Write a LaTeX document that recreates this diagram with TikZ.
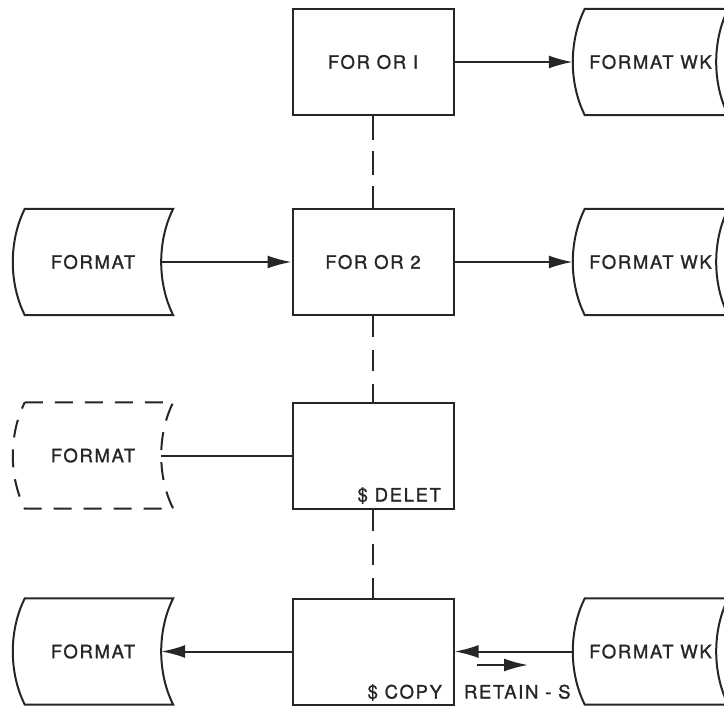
\documentclass[tikz,border=0pt]{standalone}
\usepackage{fontspec}
\setmainfont{TeX Gyre Heros}[LetterSpace=9,FakeBold=1.2]
\usetikzlibrary{arrows.meta,calc}
\tikzset{
  ln/.style={line width=2pt, draw=black!85},
  proc/.style={ln, draw, rectangle, minimum width=161pt, minimum height=106pt, inner sep=0pt},
  store/.style={rectangle, minimum width=160pt, minimum height=106pt, inner sep=0pt},
  storew/.style={store, minimum width=155pt},
  tip/.style={-{Latex[length=24pt,width=13pt]}},
  vdash/.style={ln, dash pattern=on 21pt off 13pt},
  fdash/.style={dash pattern=on 18pt off 12pt},
  txt/.style={font=\fontsize{18.5}{20}\selectfont, text=black!85},
}
\newcommand\storeoutline[2][]{%
  \draw[ln,#1] ([xshift=12pt]#2.north west) -- (#2.north east)
   .. controls ($(#2.north east)!0.3!(#2.south east)+(-16pt,0)$) and ($(#2.north east)!0.7!(#2.south east)+(-16pt,0)$) .. (#2.south east)
   -- ([xshift=12pt]#2.south west)
   .. controls ($(#2.north west)!0.7!(#2.south west)+(-4pt,0)$) and ($(#2.north west)!0.3!(#2.south west)+(-4pt,0)$) .. cycle;
}
\begin{document}
\begin{tikzpicture}[x=1pt,y=-1pt]
\useasboundingbox (0,0) rectangle (724,707);
\clip (0,0) rectangle (724,707);
% process boxes
\node[proc,txt] (b1) at (373,62) {FOR OR I};
\node[proc,txt] (b2) at (373,262) {FOR OR 2};
\node[proc] (b3) at (373,455.5) {};
\node[proc] (b4) at (373,651.5) {};
% stored data (left)
\node[store,txt] (f2) at (93,262) {FORMAT};
\node[store,txt] (f3) at (93,455.5) {FORMAT};
\node[store,txt] (f4) at (93,651.5) {FORMAT};
\storeoutline{f2}
\storeoutline[fdash]{f3}
\storeoutline{f4}
% stored data (right)
\node[storew,txt] (w1) at (650.5,62) {FORMAT WK};
\node[storew,txt] (w2) at (650.5,262) {FORMAT WK};
\node[storew,txt] (w4) at (650.5,651.5) {FORMAT WK};
\storeoutline{w1}
\storeoutline{w2}
\storeoutline{w4}
% labels
\node[txt, anchor=base east] (ldel) at ([xshift=-10pt,yshift=8pt]b3.south east) {\$ DELET};
\node[txt, anchor=base east] (lcopy) at ([xshift=-9pt,yshift=7pt]b4.south east) {\$ COPY};
\node[txt, anchor=base west] (lret) at ([xshift=6pt,yshift=7pt]b4.south east) {RETAIN - S};
% connectors
\draw[ln,tip] (b1.east) -- (w1.west);
\draw[ln,tip] ([xshift=-12pt]f2.east) -- (b2.west);
\draw[ln,tip] (b2.east) -- (w2.west);
\draw[ln] ([xshift=-12pt]f3.east) -- (b3.west);
\draw[ln,tip] (b4.west) -- ([xshift=-12pt]f4.east);
\draw[ln,tip] (w4.west) -- (b4.east);
\coordinate (r1) at (477,665);
\coordinate (r2) at (528,665);
\draw[ln,tip] (r1) -- (r2);
% dashed vertical links
\draw[vdash, dash pattern=on 24pt off 11pt] (b1.south) -- (b2.north);
\draw[vdash] (b2.south) -- (b3.north);
\draw[vdash] (b3.south) -- (b4.north);
\end{tikzpicture}
\end{document}
